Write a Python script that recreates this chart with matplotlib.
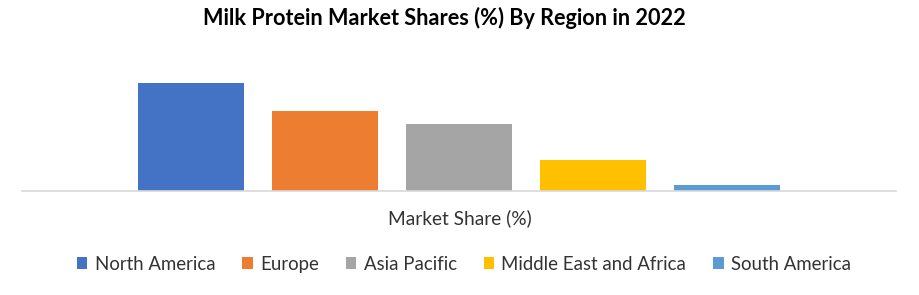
import matplotlib.pyplot as plt

regions = ["North America", "Europe", "Asia Pacific", "Middle East and Africa", "South America"]
shares = [37.0, 27.4, 22.9, 10.6, 2.1]
colors = ["#4472C4", "#ED7D31", "#A5A5A5", "#FFC000", "#5B9BD5"]

plt.rcParams['font.family'] = ['Lato', 'DejaVu Sans']

fig = plt.figure(figsize=(9.19, 2.95), dpi=100)
ax = fig.add_axes([22 / 919, 104 / 295, 874 / 919, 141 / 295])

for i, (r, v, c) in enumerate(zip(regions, shares, colors)):
    ax.bar(i, v, width=0.784, color=c, label=r)

ax.set_xlim(2 - 437 / 134, 2 + 437 / 134)
ax.set_ylim(0, 37.0 * 141 / 108)
for s in ["top", "right", "left"]:
    ax.spines[s].set_visible(False)
ax.spines["bottom"].set_color("#D9D9D9")
ax.spines["bottom"].set_linewidth(1.2)
ax.set_xticks([])
ax.set_yticks([])

fig.text(0.484, 0.938, "Milk Protein Market Shares (%) By Region in 2022",
         ha="center", va="center", fontsize=15.6, fontweight="bold", color="black")
fig.text(0.5, 0.26, "Market Share (%)", ha="center", va="center",
         fontsize=13.8, color="#333333")

leg = fig.legend(loc="center", bbox_to_anchor=(0.505, 0.105), ncol=5, frameon=False,
                 fontsize=13.4, handlelength=0.55, handleheight=0.55, handletextpad=0.4,
                 columnspacing=1.45)
for t in leg.get_texts():
    t.set_color("#333333")

fig.savefig("out.png", dpi=100)
